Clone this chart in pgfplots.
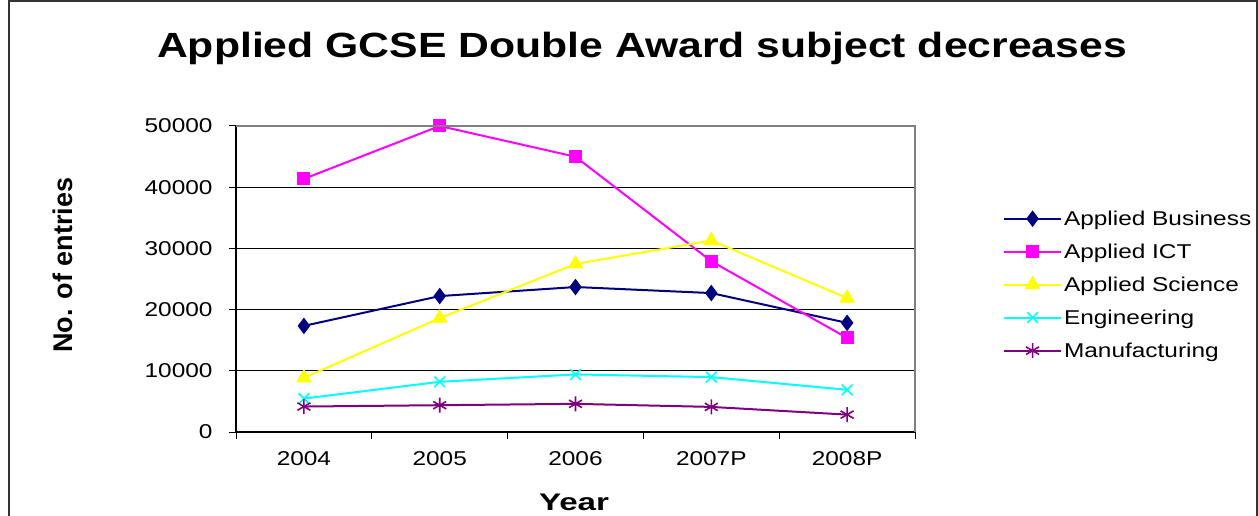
\documentclass[border=0pt]{standalone}
\usepackage{pgfplots}
\pgfplotsset{compat=1.18}
\usepackage{fontspec}
\setmainfont{Liberation Sans}
\definecolor{cBus}{RGB}{0,0,128}
\definecolor{cICT}{RGB}{255,0,255}
\definecolor{cSci}{RGB}{255,255,0}
\definecolor{cEng}{RGB}{0,255,255}
\definecolor{cMan}{RGB}{128,0,128}
\newcommand{\wide}[1]{\scalebox{1.22}[1]{#1}}
\begin{document}
\begin{tikzpicture}[x=1pt,y=1pt]
\path[use as bounding box] (0,0) rectangle (1258,515);
\draw[line width=1.2pt,black!80] (9,-5) -- (9,514) -- (1257,514) -- (1257,-5);
\node[font=\fontsize{35}{42}\selectfont\bfseries,anchor=base] at (642,457.5) {\wide{Applied GCSE Double Award subject decreases}};
\node[font=\fontsize{27}{32}\selectfont\bfseries,rotate=90] at (63,250) {No. of entries};
\node[font=\fontsize{24}{29}\selectfont\bfseries,anchor=base] at (574,5) {\scalebox{1.38}[1]{Year}};
\begin{axis}[
  at={(236pt,83pt)}, anchor=south west,
  scale only axis, width=679pt, height=306pt,
  xmin=-0.5, xmax=4.5, ymin=0, ymax=50000,
  xtick={0,1,2,3,4},
  xticklabels={2004,2005,2006,2007P,2008P},
  major x tick style={draw=none},
  minor xtick={-0.5,0.5,1.5,2.5,3.5,4.5},
  ytick={0,10000,20000,30000,40000,50000},
  scaled y ticks=false,
  /pgf/number format/fixed,
  /pgf/number format/1000 sep={},
  /pgf/number format/assume math mode=true,
  tick align=outside,
  major tick length=7pt, minor tick length=7pt,
  tick style={black,line width=1pt},
  axis x line*=bottom, axis y line*=left,
  axis line style={black,line width=1.2pt,-},
  ymajorgrids, major grid style={black,line width=1pt},
  ticklabel style={font=\fontsize{20}{24}\selectfont, xscale=1.22},
  xticklabel style={yshift=-9pt},
  yticklabel style={xshift=-10pt},
  every axis plot/.append style={line width=2pt},
  legend style={at={(1.125,0.737)}, anchor=north west, draw=none, fill=none,
    font=\fontsize{20}{24}\selectfont, row sep=13pt,
    legend cell align=left},
  legend image code/.code={\draw[mark repeat=2,mark phase=2] plot coordinates {(0pt,0pt) (28.5pt,0pt) (57pt,0pt)};},
  clip=false,
  after end axis/.code={
    \draw[gray,line width=1.2pt] (rel axis cs:0,1) -- (rel axis cs:1,1) -- (rel axis cs:1,0);
  },
]
\addplot[cBus, mark=diamond*, mark size=7.5pt, mark options={fill=cBus,line width=1pt}] coordinates {(0,17340) (1,22210) (2,23690) (3,22700) (4,17830)};
\addlegendentry{\wide{Applied Business}}
\addplot[cICT, mark=square*, mark size=6pt, mark options={fill=cICT,line width=1pt}] coordinates {(0,41360) (1,50000) (2,44970) (3,27900) (4,15370)};
\addlegendentry{\wide{Applied ICT}}
\addplot[cSci, mark=triangle*, mark size=8pt, mark options={fill=cSci,line width=1pt}] coordinates {(0,8860) (1,18600) (2,27460) (3,31290) (4,21880)};
\addlegendentry{\wide{Applied Science}}
\addplot[cEng, mark=x, mark size=7.5pt, mark options={line width=1.6pt}] coordinates {(0,5470) (1,8200) (2,9410) (3,8970) (4,6890)};
\addlegendentry{\wide{Engineering}}
\addplot[cMan, mark=asterisk, mark size=7.5pt, mark options={line width=1.6pt}] coordinates {(0,4160) (1,4380) (2,4600) (3,4100) (4,2840)};
\addlegendentry{\wide{Manufacturing}}
\end{axis}
\end{tikzpicture}
\end{document}
